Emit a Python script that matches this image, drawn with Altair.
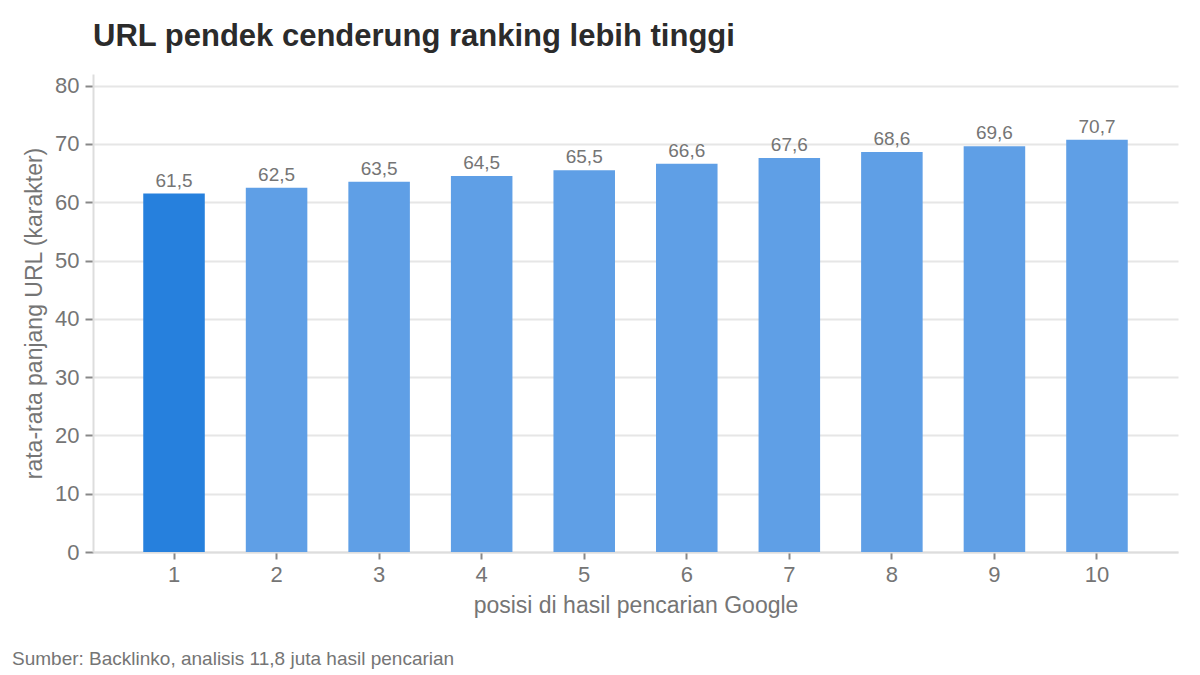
import altair as alt
import pandas as pd

positions = [1, 2, 3, 4, 5, 6, 7, 8, 9, 10]
values = [61.5, 62.5, 63.5, 64.5, 65.5, 66.6, 67.6, 68.6, 69.6, 70.7]
labels = ["61,5", "62,5", "63,5", "64,5", "65,5", "66,6", "67,6", "68,6", "69,6", "70,7"]
highlight = [True] + [False] * 9

df = pd.DataFrame({"pos": positions, "val": values, "lab": labels, "hl": highlight})

FONT = "Liberation Sans"
GRAY = "#757575"

x = alt.X("pos:O", title="posisi di hasil pencarian Google",
          scale=alt.Scale(paddingInner=0.4, paddingOuter=0.49),
          axis=alt.Axis(labelAngle=0, labelFontSize=22, labelColor=GRAY, labelFont=FONT,
                        titleFontSize=23, titleColor=GRAY, titleFont=FONT, titleFontWeight="normal",
                        titlePadding=9, labelPadding=5,
                        tickColor="#888888", tickSize=7, tickWidth=2, domainColor="#dddddd", domainWidth=2))
y = alt.Y("val:Q", title="rata-rata panjang URL (karakter)",
          scale=alt.Scale(domain=[0, 82], nice=False),
          axis=alt.Axis(values=[0, 10, 20, 30, 40, 50, 60, 70, 80], labelFontSize=22, labelColor=GRAY,
                        labelFont=FONT, titleFontSize=23, titleColor=GRAY, titleFont=FONT,
                        titleFontWeight="normal", titlePadding=8, labelPadding=6,
                        tickColor="#888888", tickSize=8, tickWidth=2, domainColor="#dddddd", domainWidth=2,
                        gridColor="#e6e6e6", gridWidth=2))

bars = alt.Chart(df).mark_bar().encode(
    x=x, y=y,
    color=alt.Color("hl:N", scale=alt.Scale(domain=[True, False], range=["#2680dd", "#5f9fe6"]), legend=None),
)
text = alt.Chart(df).mark_text(dy=-13, fontSize=19, color=GRAY, font=FONT).encode(
    x="pos:O", y="val:Q", text="lab:N")

source = alt.Chart(pd.DataFrame({"t": ["Sumber: Backlinko, analisis 11,8 juta hasil pencarian"]})).mark_text(
    align="left", baseline="middle", fontSize=19, color=GRAY, font=FONT
).encode(x=alt.value(-81), y=alt.value(585), text="t:N")

chart = alt.layer(bars, text, source).properties(
    width=1085, height=478,
    autosize=alt.AutoSizeParams(type="none"),
    padding={"left": 85, "top": 66, "right": 14, "bottom": 130},
    title=alt.TitleParams("URL pendek cenderung ranking lebih tinggi", anchor="start", fontSize=31,
                          font=FONT, fontWeight="bold", color="#2b2b2b", offset=21, frame="group"),
).configure_view(stroke=None)

chart.save("out.html", embed_options={"renderer": "svg", "actions": False})
